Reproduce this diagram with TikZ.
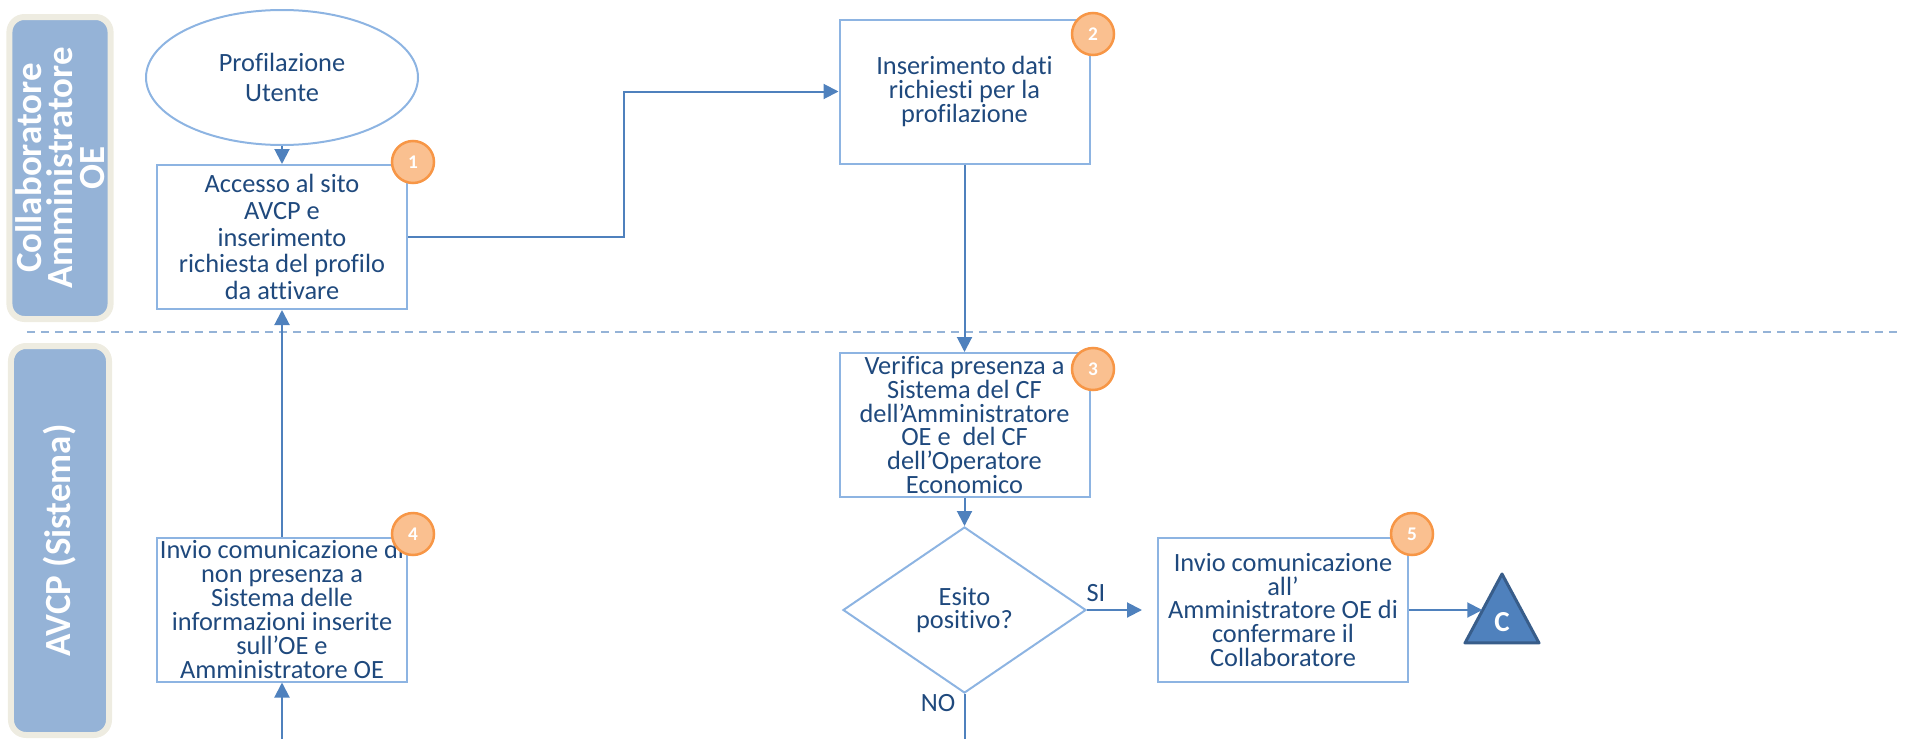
\documentclass[tikz,border=0pt]{standalone}
\usepackage{fontspec}
\setmainfont{Carlito}[Ligatures={TeX,NoCommon}]
\usepackage{xcolor}
\usetikzlibrary{arrows.meta, shapes.geometric, positioning}
\definecolor{lanefill}{RGB}{149,179,215}
\definecolor{laneedge}{RGB}{238,236,225}
\definecolor{boxedge}{RGB}{141,180,226}
\definecolor{flowblue}{RGB}{79,129,189}
\definecolor{inkblue}{RGB}{31,73,125}
\definecolor{badgefill}{RGB}{250,192,144}
\definecolor{badgeedge}{RGB}{247,150,70}
\definecolor{tridark}{RGB}{56,93,138}
\lineskiplimit=-100pt
\begin{document}
\begin{tikzpicture}[
  >={Triangle[length=3mm,width=3mm]},
  every node/.style={font=\fontsize{15}{13.6}\selectfont, text=inkblue},
  lane/.style={draw=laneedge, line width=1.2mm, fill=lanefill, rounded corners=3mm, rotate=90,
    minimum height=1.96cm, text=white, align=center, font=\fontsize{21}{18}\selectfont\bfseries},
  stepbox/.style={draw=boxedge, line width=0.4mm, minimum width=5cm, minimum height=2.88cm,
    align=center, inner sep=0pt},
  badge/.style={circle, draw=badgeedge, fill=badgefill, line width=0.5mm, minimum size=8.4mm,
    inner sep=0pt, text=white, font=\fontsize{11}{11}\selectfont\bfseries},
  flow/.style={->, draw=flowblue, line width=0.4mm}
]
\useasboundingbox (0,0) rectangle (38.1,-14.78);
% swimlanes
\node[lane, minimum width=6.04cm] (lane-top) at (1.2,-3.36) {Collaboratore\\Amministratore\\OE};
\node[lane, minimum width=7.78cm] (lane-bottom) at (1.2,-10.81) {AVCP (Sistema)};
\coordinate (split-left) at (0.54,-6.64);
\coordinate (split-right) at (37.94,-6.64);
\draw[lanefill, line width=0.4mm, dash pattern=on 1.6mm off 1.2mm] (split-left) -- (split-right);
% steps
\node[ellipse, draw=boxedge, line width=0.4mm, minimum width=5.44cm, minimum height=2.7cm,
  align=center, font=\fontsize{15}{17}\selectfont] (start) at (5.64,-1.55) {Profilazione\\Utente};
\node[stepbox, font=\fontsize{15}{15.1}\selectfont] (access) at (5.64,-4.74)
  {Accesso al sito\\AVCP e\\inserimento\\richiesta del profilo\\da attivare};
\node[stepbox] (input) at (19.29,-1.83) {Inserimento dati\\richiesti per la\\profilazione};
\node[stepbox] (check) at (19.29,-8.5)
  {Verifica presenza a\\Sistema del CF\\dell’Amministratore\\OE e~ del CF\\dell’Operatore\\Economico};
\node[diamond, draw=boxedge, line width=0.4mm, aspect=1.46, minimum width=4.86cm, minimum height=3.32cm,
  inner sep=0pt, align=center, font=\fontsize{15}{13.2}\selectfont] (outcome) at (19.29,-12.2)
  {Esito\\positivo?};
\node[stepbox] (refuse) at (5.64,-12.19)
  {Invio comunicazione di\\non presenza a\\Sistema delle\\informazioni inserite\\sull’OE e\\Amministratore OE};
\node[stepbox] (notify) at (25.66,-12.2)
  {Invio comunicazione\\all’\\Amministratore OE di\\confermare il\\Collaboratore};
\node[isosceles triangle, isosceles triangle stretches, shape border rotate=90, draw=tridark,
  fill=flowblue, line width=0.6mm, line join=round, minimum width=1.48cm, minimum height=1.38cm,
  inner sep=0pt, text=white, font=\fontsize{16.5}{16.5}\selectfont\bfseries] (tri-c) at (30.04,-12.44) {C};
% connectors
\coordinate (from-below) at (5.64,-14.9);
\coordinate (no-exit) at (19.29,-14.9);
\draw[flow] (start) -- (access);
\draw[flow] (access.east) -- ++(4.32,0) |- (input.west);
\draw[flow] (input) -- (check);
\draw[flow] (check) -- (outcome);
\draw[flow, shorten >=3mm] (outcome.east) -- (notify.west);
\draw[flow] (notify.east) -- (notify.east -| tri-c.left side);
\draw[flow] (refuse) -- (access);
\draw[flow] (from-below) -- (refuse.south);
\draw[flowblue, line width=0.4mm] (outcome.south) -- (no-exit);
\node (yes-label) at (21.92,-11.86) {SI};
\node (no-label) at (18.76,-14.06) {NO};
% numbered badges
\node[badge] (badge-1) at (8.26,-3.24) {1};
\node[badge] (badge-2) at (21.86,-0.68) {2};
\node[badge] (badge-3) at (21.86,-7.38) {3};
\node[badge] (badge-4) at (8.26,-10.68) {4};
\node[badge] (badge-5) at (28.24,-10.68) {5};
\end{tikzpicture}
\end{document}
